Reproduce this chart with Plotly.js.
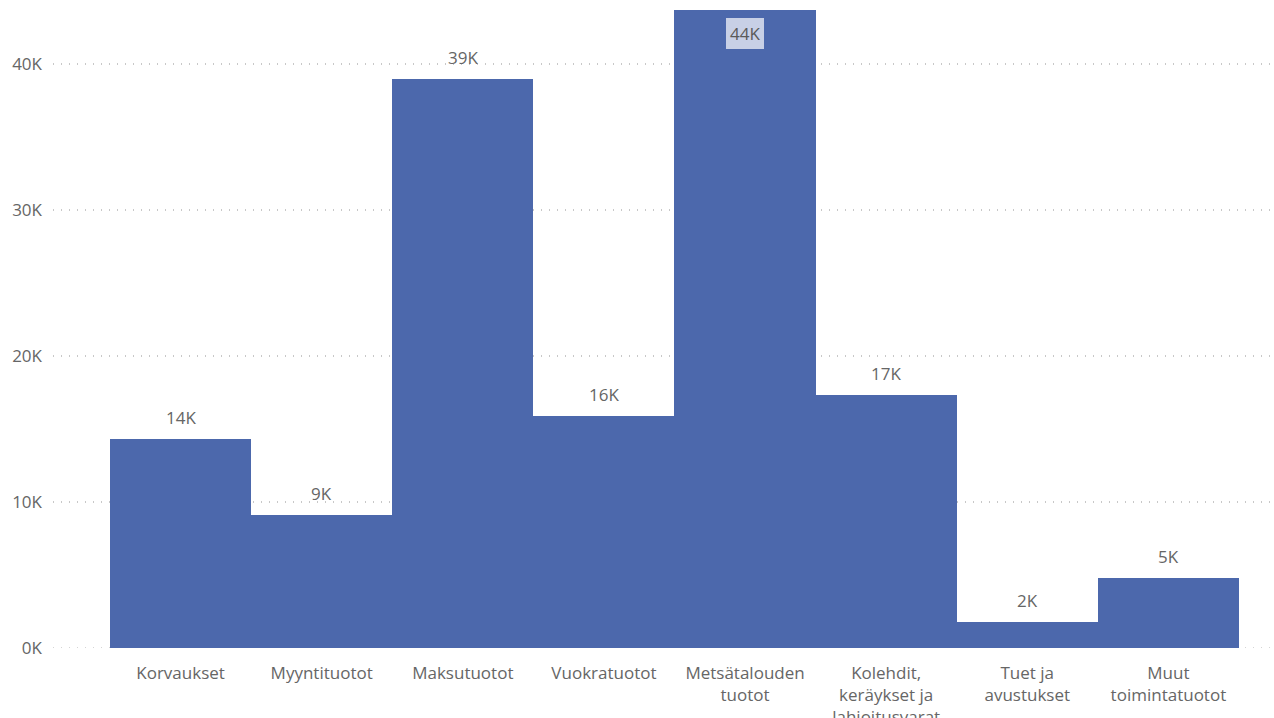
<!DOCTYPE html>
<html>
<head>
<meta charset="utf-8">
<script src="https://cdn.plot.ly/plotly-3.0.1.min.js"></script>
<style>html,body{margin:0;padding:0;background:#fff;}#chart{width:1274px;height:718px;}</style>
</head>
<body>
<div id="chart"></div>
<script>
const categories = ["Korvaukset","Myyntituotot","Maksutuotot","Vuokratuotot","Metsätalouden<br>tuotot","Kolehdit,<br>keräykset ja<br>lahjoitusvarat","Tuet ja<br>avustukset","Muut<br>toimintatuotot"];
const values = [14300, 9100, 38950, 15900, 44200, 17300, 1800, 4800];
const yTickVals = [0, 10000, 20000, 30000, 40000];
const yTickText = ["0K", "10K", "20K", "30K", "40K"];

const yMax = 43700;
const labels = values.map(v => Math.round(v / 1000) + "K");
const textColor = "#666666";
const font = "'Open Sans', 'Noto Sans', sans-serif";
const fs = 17;

const annotations = [];
values.forEach((v, i) => {
  if (v > yMax) {
    annotations.push({
      x: categories[i], y: yMax, xref: "x", yref: "y", yanchor: "top", yshift: -8,
      text: labels[i], showarrow: false,
      bgcolor: "#C8D0E6", borderpad: 1, bordercolor: "#C8D0E6", borderwidth: 3,
      font: {family: font, size: fs, color: "#5A5A5A"}
    });
  } else {
    annotations.push({
      x: categories[i], y: v, xref: "x", yref: "y", yanchor: "bottom", yshift: 8,
      text: labels[i], showarrow: false,
      font: {family: font, size: fs, color: textColor}
    });
  }
});

Plotly.newPlot("chart", [{
  type: "bar",
  x: categories,
  y: values,
  marker: {color: "#4C68AC"},
  hoverinfo: "none"
}], {
  width: 1274, height: 718,
  margin: {l: 53, r: 4, t: 10, b: 70},
  bargap: 0,
  paper_bgcolor: "#fff", plot_bgcolor: "#fff",
  showlegend: false,
  font: {family: font, size: fs, color: textColor},
  xaxis: {
    type: "category",
    range: [-0.904, 7.72],
    showgrid: false, zeroline: false, showline: false,
    ticks: "", ticklabelstandoff: 13,
    tickfont: {family: font, size: fs, color: textColor}
  },
  yaxis: {
    range: [0, yMax],
    tickvals: yTickVals, ticktext: yTickText,
    showgrid: true, gridcolor: "#C8C8C8", griddash: "1px,7px", gridwidth: 1.5,
    zeroline: false, showline: false, ticks: "",
    ticklabelstandoff: 10,
    tickfont: {family: font, size: fs, color: textColor}
  },
  shapes: [{
    type: "line", layer: "below", xref: "paper", yref: "y",
    x0: 0, x1: 1, y0: yTickVals[0], y1: yTickVals[0],
    line: {color: "#C8C8C8", width: 1.5, dash: "1px,7px"}
  }],
  annotations: annotations
}, {displayModeBar: false, staticPlot: true});
</script>
</body>
</html>
